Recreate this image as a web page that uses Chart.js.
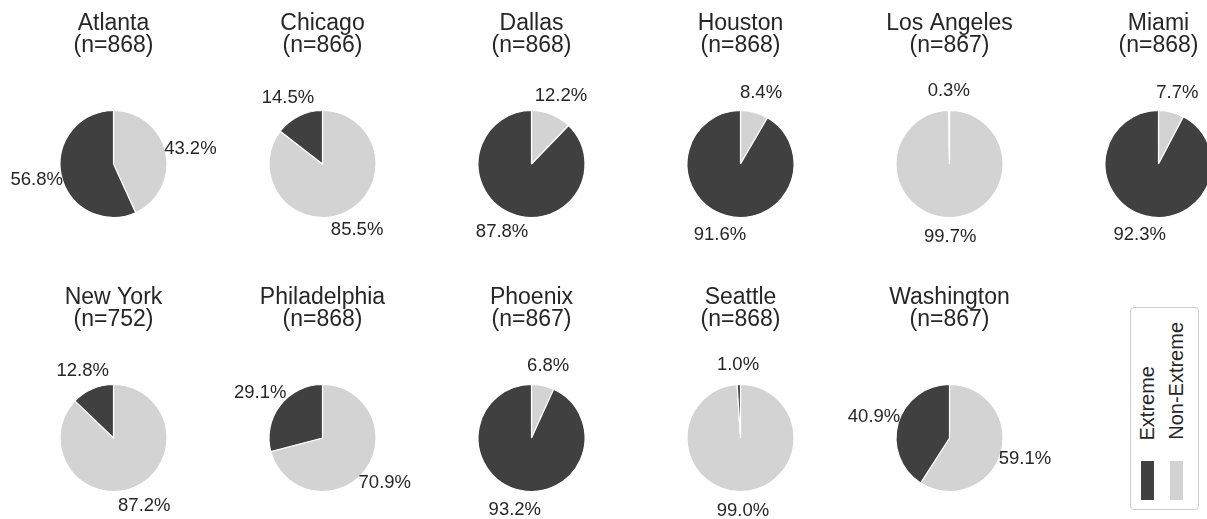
<!DOCTYPE html>
<html>
<head>
<meta charset="utf-8">
<script src="https://cdn.jsdelivr.net/npm/chart.js@4.4.1/dist/chart.umd.min.js"></script>
<style>
  html, body { margin: 0; padding: 0; background: #fff; overflow: hidden; }
  #wrap { position: relative; width: 1207px; height: 519px; overflow: hidden;
          font-family: 'Liberation Sans', Arial, sans-serif; color: #262626; }
  #wrap canvas { position: absolute; }
  .legend { position: absolute; left: 1130px; top: 307px; width: 69px; height: 203px;
            border: 1px solid #cfcfcf; border-radius: 4px; box-sizing: border-box; }
  .legend .txt { position: absolute; bottom: 69px; width: 22px; line-height: 22px; font-size: 20px;
                 writing-mode: vertical-rl; transform: rotate(180deg); white-space: nowrap; }
  .legend .sw { position: absolute; top: 153px; width: 13px; height: 39px; }
</style>
</head>
<body>
<div id="wrap">
  <div class="legend" id="legend"></div>
</div>
<script>
// one panel per city
const cities = ['Atlanta', 'Chicago', 'Dallas', 'Houston', 'Los Angeles', 'Miami',
                'New York', 'Philadelphia', 'Phoenix', 'Seattle', 'Washington'];
const sampleSizes = [868, 866, 868, 868, 867, 868, 752, 868, 867, 868, 867];
const extremePct = [56.8, 14.5, 87.8, 91.6, 0.3, 92.3, 12.8, 29.1, 93.2, 1.0, 40.9];
const nonExtremePct = [43.2, 85.5, 12.2, 8.4, 99.7, 7.7, 87.2, 70.9, 6.8, 99.0, 59.1];
const seriesLabels = ['Extreme', 'Non-Extreme'];
const seriesColors = ['#404040', '#d3d3d3'];

const FONT = "'Liberation Sans', Arial, sans-serif";
const TEXT = '#262626';

// percentage labels outside each wedge
const pctLabels = {
  id: 'pctLabels',
  afterDatasetsDraw(chart) {
    const ctx = chart.ctx;
    const meta = chart.getDatasetMeta(0);
    const values = chart.data.datasets[0].data;
    ctx.save();
    ctx.font = '18.5px ' + FONT;
    ctx.fillStyle = TEXT;
    ctx.textAlign = 'center';
    ctx.textBaseline = 'middle';
    meta.data.forEach((arc, i) => {
      const p = arc.getProps(['x', 'y', 'startAngle', 'endAngle', 'outerRadius'], true);
      const mid = (p.startAngle + p.endAngle) / 2;
      const x = p.x + Math.cos(mid) * p.outerRadius * 1.47;
      const y = p.y + Math.sin(mid) * p.outerRadius * 1.37;
      ctx.fillText(values[i].toFixed(1) + '%', x, y);
    });
    ctx.restore();
  }
};

const wrap = document.getElementById('wrap');
const colW = 209, rowH = 274;

cities.forEach((city, i) => {
  const canvas = document.createElement('canvas');
  canvas.width = colW;
  canvas.height = 275;
  canvas.style.left = (9 + (i % 6) * colW) + 'px';
  canvas.style.top = (Math.floor(i / 6) * rowH) + 'px';
  wrap.appendChild(canvas);

  new Chart(canvas.getContext('2d'), {
    type: 'pie',
    data: {
      // drawn clockwise from the top: Non-Extreme first, then Extreme
      labels: [seriesLabels[1], seriesLabels[0]],
      datasets: [{
        data: [nonExtremePct[i], extremePct[i]],
        backgroundColor: [seriesColors[1], seriesColors[0]],
        borderColor: '#ffffff',
        borderWidth: 1.2,
        radius: 53.5
      }]
    },
    options: {
      responsive: false,
      animation: false,
      layout: { padding: { bottom: 3 } },
      plugins: {
        legend: { display: false },
        tooltip: { enabled: false },
        title: {
          display: true,
          text: [city, '(n=' + sampleSizes[i] + ')'],
          color: TEXT,
          font: { family: FONT, size: 23, weight: 'normal', lineHeight: '21.5px' },
          padding: { top: 13, bottom: 0 }
        }
      }
    },
    plugins: [pctLabels]
  });
});

// legend box (rotated entries)
const legend = document.getElementById('legend');
const legendX = [9, 38];
seriesLabels.forEach((name, i) => {
  const sw = document.createElement('div');
  sw.className = 'sw';
  sw.style.left = (legendX[i] + 1) + 'px';
  sw.style.background = seriesColors[i];
  legend.appendChild(sw);
  const t = document.createElement('div');
  t.className = 'txt';
  t.style.left = (legendX[i] - 4) + 'px';
  t.textContent = name;
  legend.appendChild(t);
});
</script>
</body>
</html>
